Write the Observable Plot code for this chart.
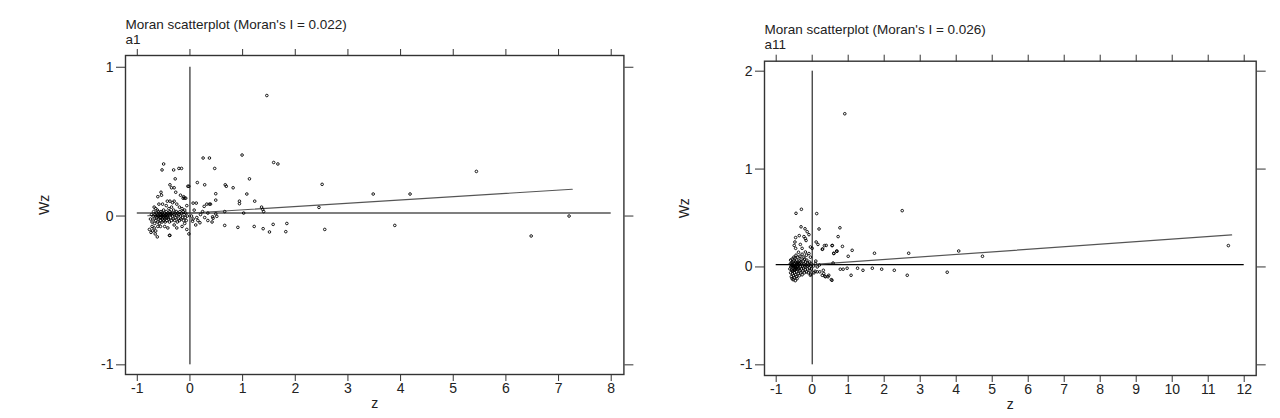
<!DOCTYPE html>
<html>
<head>
<meta charset="utf-8">
<script src="https://cdn.jsdelivr.net/npm/d3@7"></script>
<script src="https://cdn.jsdelivr.net/npm/@observablehq/plot@0.6"></script>
<style>
  html, body { margin: 0; padding: 0; background: #fff; }
  #wrap { display: flex; width: 1280px; height: 418px; }
  #wrap > div { width: 640px; height: 418px; }
</style>
</head>
<body>
<div id="wrap"><div id="p1"></div><div id="p2"></div></div>
<script>
// ---------- Panel a1 ----------
const titleA1 = "Moran scatterplot (Moran's I = 0.022)";
const nameA1 = "a1";
const xTicksA1 = [-1, 0, 1, 2, 3, 4, 5, 6, 7, 8];
const yTicksA1 = [-1, 0, 1];
const meanWzA1 = 0.02;
const regA1 = [[-0.8, 0.002], [7.26, 0.18]];
const pointsA1 = [
  [1.46,0.81],[5.44,0.30],[3.48,0.148],[4.18,0.148],[2.51,0.213],[2.45,0.058],[7.20,0.0],[6.48,-0.134],
  [3.89,-0.063],[2.56,-0.09],[1.82,-0.105],[1.84,-0.05],[1.67,0.35],[1.59,0.36],[0.99,0.41],[1.13,0.25],
  [1.08,0.148],[1.23,0.10],[1.36,0.06],[1.40,0.03],[1.38,0.045],[1.58,-0.056],[1.51,-0.107],[1.39,-0.085],
  [1.22,-0.07],[0.91,-0.076],[0.66,-0.063],[1.02,0.02],[0.94,0.10],[0.94,0.083],[0.82,0.19],[0.67,0.21],
  [0.69,0.20],[0.49,0.15],[0.49,0.107],[0.47,0.32],[0.25,0.39],[0.37,0.39],[0.14,0.225],[0.28,0.21],
  [-0.02,0.20],[0.66,0.03],
  [0.06,0.087],[0.12,0.087],[0.27,0.065],[0.32,0.08],[0.37,0.08],[0.39,0.08],[0.24,0.03],[0.34,-0.03],
  [0.44,-0.015],[0.51,-0.002],[0.15,-0.03],[0.11,-0.06],[0.28,-0.01],[0.20,0.01],[0.13,-0.01],[0.06,-0.02],
  [0.43,-0.005],[0.49,0.015],[0.19,-0.045],[0.42,-0.04],[0.34,0.02],[0.08,0.04],[0.03,0.0],[0.05,-0.035],
  [-0.50,0.35],[-0.53,0.31],[-0.31,0.31],[-0.21,0.32],[-0.16,0.32],[-0.28,0.25],[-0.04,0.20],[-0.38,0.21],
  [-0.35,0.19],[-0.30,0.19],[-0.27,0.16],[-0.55,0.16],[-0.54,0.14],[-0.61,0.13],[-0.18,0.14],[-0.13,0.12],
  [-0.12,0.13],[-0.10,0.12],[-0.43,0.10],[-0.38,0.10],[-0.33,0.09],[-0.30,0.10],[-0.52,0.08],[-0.59,0.08],
  [-0.08,0.12],[-0.06,0.07],[-0.68,0.06],[-0.65,0.05],[-0.45,0.07],[-0.25,0.08],[-0.20,0.06],[-0.40,0.05],
  [-0.35,0.06],[-0.15,0.05],[-0.10,0.04],
  [-0.77,-0.09],[-0.71,-0.10],[-0.68,-0.08],[-0.65,-0.10],[-0.61,-0.07],[-0.56,-0.07],[-0.06,-0.09],[-0.02,-0.12],
  [-0.62,-0.14],[-0.39,-0.13],[-0.38,-0.13],[-0.74,-0.11],[-0.72,-0.07],[-0.66,-0.12],[-0.48,-0.07],[-0.42,-0.08],
  [-0.30,-0.06],[-0.25,-0.08],[-0.15,-0.07],[-0.10,-0.05],
  [-0.75,-0.02],[-0.73,0.01],[-0.72,-0.04],[-0.70,0.0],[-0.69,0.03],[-0.68,-0.02],[-0.67,-0.05],[-0.66,0.01],
  [-0.65,-0.03],[-0.64,0.02],[-0.63,-0.01],[-0.62,0.04],[-0.61,-0.04],[-0.60,0.0],[-0.59,-0.02],[-0.58,0.02],
  [-0.58,-0.05],[-0.57,0.01],[-0.56,-0.03],[-0.55,0.03],[-0.55,-0.01],[-0.54,0.0],[-0.53,-0.04],[-0.53,0.02],
  [-0.52,-0.02],[-0.51,0.01],[-0.50,-0.03],[-0.50,0.04],[-0.49,0.0],[-0.48,-0.02],[-0.48,0.02],[-0.47,-0.04],
  [-0.46,0.01],[-0.45,-0.01],[-0.45,0.03],[-0.44,-0.03],[-0.43,0.0],[-0.42,0.02],[-0.41,-0.02],[-0.40,0.01],
  [-0.39,-0.04],[-0.38,0.03],[-0.37,-0.01],[-0.36,0.01],[-0.35,-0.03],[-0.34,0.02],[-0.33,0.0],[-0.32,-0.02],
  [-0.31,0.04],[-0.30,0.01],[-0.29,-0.03],[-0.28,0.02],[-0.27,-0.01],[-0.26,0.03],[-0.25,0.0],[-0.24,-0.04],
  [-0.23,0.02],[-0.22,-0.02],[-0.21,0.01],[-0.20,-0.03],[-0.19,0.03],[-0.18,0.0],[-0.17,-0.02],[-0.16,0.02],
  [-0.14,-0.01],[-0.13,0.03],[-0.12,-0.03],[-0.11,0.01],[-0.09,-0.01],[-0.08,0.02],[-0.07,-0.03],[-0.05,0.0],
  [-0.62,0.0],[-0.57,-0.01],[-0.52,0.0],[-0.47,0.0],[-0.42,-0.01],[-0.37,0.02],[-0.60,0.03],[-0.65,0.0],
  [-0.55,0.01],[-0.50,-0.01],[-0.44,0.01]
];

// ---------- Panel a11 ----------
const titleA11 = "Moran scatterplot (Moran's I = 0.026)";
const nameA11 = "a11";
const xTicksA11 = [-1, 0, 1, 2, 3, 4, 5, 6, 7, 8, 9, 10, 11, 12];
const yTicksA11 = [-1, 0, 1, 2];
const meanWzA11 = 0.024;
const regA11 = [[-0.62, 0.008], [11.65, 0.327]];
const pointsA11 = [
  [0.905,1.565],[2.50,0.575],[11.56,0.218],[4.73,0.109],[4.07,0.163],[2.68,0.14],[1.73,0.14],[3.75,-0.054],
  [2.64,-0.085],[2.28,-0.034],[1.93,-0.023],[1.67,-0.013],[1.41,-0.034],[1.26,-0.013],[1.08,-0.085],[0.97,-0.013],
  [0.86,-0.023],[0.78,-0.023],[1.0,0.109],[1.11,0.17],[0.84,0.21],[0.72,0.31],[0.77,0.40],[0.55,0.218],
  [0.60,0.14],[0.68,0.163],[0.34,0.218],[0.29,0.184],[0.19,0.388],[0.125,0.545],[0.11,0.255],
  [-0.30,0.589],[-0.45,0.548],[-0.31,0.41],[-0.20,0.39],[-0.14,0.36],[-0.09,0.33],[-0.36,0.32],[-0.46,0.30],
  [-0.48,0.255],[-0.50,0.22],[-0.46,0.19],[-0.51,0.10],[-0.23,0.31],[-0.19,0.29],[-0.17,0.27],[-0.33,0.23],
  [-0.28,0.19],[-0.19,0.153],[-0.16,0.12],[-0.05,0.204],[0.0,0.19],[-0.05,0.10],[-0.09,0.137],[-0.23,0.10],
  [0.16,0.23],[0.28,0.18],[0.39,0.22],[0.56,0.22],[0.60,0.137],[0.69,0.16],[0.58,0.04],[0.09,0.035],
  [0.14,0.0],[0.21,-0.05],[0.28,-0.085],[0.37,-0.10],[0.46,-0.085],[0.53,-0.13],[0.31,-0.034],[0.14,-0.05],
  [0.05,-0.06],[-0.05,-0.085],[0.44,-0.10],[0.35,-0.095],[0.32,-0.068],[0.08,-0.044],[-0.04,-0.074],[0.55,-0.136],
  [0.2,0.02],[0.1,0.06],[0.04,0.01],
  [-0.62,-0.02],[-0.61,0.03],[-0.60,-0.06],[-0.60,0.07],[-0.59,0.0],[-0.58,-0.10],[-0.58,0.04],[-0.57,-0.03],
  [-0.56,0.08],[-0.56,-0.12],[-0.55,0.01],[-0.55,-0.07],[-0.54,0.05],[-0.53,-0.04],[-0.53,-0.13],[-0.52,0.02],
  [-0.52,-0.09],[-0.51,0.06],[-0.50,-0.01],[-0.50,-0.11],[-0.49,0.03],[-0.49,-0.06],[-0.48,0.09],[-0.48,-0.03],
  [-0.47,0.0],[-0.47,-0.14],[-0.46,0.05],[-0.46,-0.08],[-0.45,-0.02],[-0.45,0.12],[-0.44,0.02],[-0.44,-0.10],
  [-0.43,0.07],[-0.43,-0.05],[-0.42,0.0],[-0.42,-0.12],[-0.41,0.04],[-0.40,-0.03],[-0.40,0.10],[-0.39,-0.07],
  [-0.38,0.02],[-0.38,0.15],[-0.37,-0.01],[-0.36,0.06],[-0.36,-0.09],[-0.35,0.03],[-0.34,-0.04],[-0.34,0.11],
  [-0.33,0.0],[-0.32,-0.06],[-0.32,0.05],[-0.31,0.08],[-0.30,-0.02],[-0.29,0.03],[-0.28,-0.08],[-0.28,0.13],
  [-0.27,0.01],[-0.26,-0.04],[-0.25,0.06],[-0.24,-0.01],[-0.23,0.03],[-0.22,-0.06],[-0.21,0.08],[-0.20,0.0],
  [-0.19,-0.03],[-0.18,0.05],[-0.17,0.02],[-0.16,-0.05],[-0.15,0.07],[-0.14,0.01],[-0.13,-0.02],[-0.12,0.04],
  [-0.11,-0.06],[-0.10,0.02],[-0.08,-0.01],[-0.07,0.05],[-0.06,-0.04],[-0.04,0.01],[-0.03,0.03],[-0.02,-0.02],
  [-0.55,-0.04],[-0.51,0.01],[-0.46,-0.01],[-0.41,0.01],[-0.37,0.04],[-0.57,0.02],[-0.49,-0.03],[-0.44,0.04],
  [-0.39,-0.02],[-0.53,0.0]
];

const FONT = "'Liberation Sans', Arial, Helvetica, sans-serif";

function moranPanel(cfg) {
  const pts = cfg.points.map(([z, wz]) => ({z, wz}));
  const reg = cfg.reg.map(([z, wz]) => ({z, wz}));
  const blank = () => "";
  return Plot.plot({
    width: 640,
    height: 418,
    marginLeft: cfg.ml, marginRight: cfg.mr, marginTop: cfg.mt, marginBottom: cfg.mb,
    x: {domain: cfg.xDomain},
    y: {domain: cfg.yDomain},
    style: {fontFamily: FONT, fontSize: "14px", color: "#222", background: "#fff", overflow: "visible"},
    marks: [
      Plot.axisX({anchor: "bottom", ticks: cfg.xTicks, tickSize: 7, tickPadding: 2, label: null, tickFormat: d => String(d), fontSize: 14, stroke: "#333"}),
      Plot.axisX({anchor: "top", ticks: cfg.xTicks, tickSize: 7, label: null, tickFormat: blank, stroke: "#333"}),
      Plot.axisY({anchor: "left", ticks: cfg.yTicks, tickSize: 9, tickPadding: 3, label: null, tickFormat: d => String(d), fontSize: 14, stroke: "#333"}),
      Plot.axisY({anchor: "right", ticks: cfg.yTicks, tickSize: 9, label: null, tickFormat: blank, stroke: "#333"}),
      Plot.frame({stroke: "#333", strokeWidth: 1.4}),
      Plot.ruleX([0], {y1: cfg.yTicks[0], y2: cfg.yTicks[cfg.yTicks.length - 1], stroke: "#000", strokeWidth: 1}),
      Plot.ruleY([cfg.meanWz], {x1: cfg.xTicks[0], x2: cfg.xTicks[cfg.xTicks.length - 1], stroke: "#000", strokeWidth: 1.1}),
      Plot.line(reg, {x: "z", y: "wz", stroke: "#555", strokeWidth: 1.2}),
      Plot.dot(pts, {x: "z", y: "wz", r: 1.3, stroke: "#000", strokeWidth: 0.9, fill: "none"}),
      Plot.text([cfg.title], {frameAnchor: "top-left", textAnchor: "start", lineAnchor: "middle", dy: cfg.titleDy, fontSize: 13.5, fill: "#222"}),
      Plot.text([cfg.name], {frameAnchor: "top-left", textAnchor: "start", lineAnchor: "middle", dy: cfg.nameDy, fontSize: 13.5, fill: "#222"}),
      Plot.text(["z"], {frameAnchor: "bottom", lineAnchor: "middle", dy: 29, fontSize: 14, fill: "#222"}),
      Plot.text(["Wz"], {frameAnchor: "left", rotate: -90, lineAnchor: "middle", dx: cfg.wzDx, fontSize: 14, fill: "#222"})
    ]
  });
}

document.getElementById("p1").append(moranPanel({
  title: titleA1, name: nameA1, points: pointsA1, reg: regA1, meanWz: meanWzA1,
  xTicks: xTicksA1, yTicks: yTicksA1,
  xDomain: [-1.224, 8.241], yDomain: [-1.065, 1.079],
  ml: 125, mr: 16.6, mt: 55, mb: 44,
  titleDy: -31, nameDy: -16, wzDx: -81
}));

document.getElementById("p2").append(moranPanel({
  title: titleA11, name: nameA11, points: pointsA11, reg: regA11, meanWz: meanWzA11,
  xTicks: xTicksA11, yTicks: yTicksA11,
  xDomain: [-1.325, 12.333], yDomain: [-1.109, 2.102],
  ml: 124, mr: 24.3, mt: 60.7, mb: 43,
  titleDy: -31.7, nameDy: -16.7, wzDx: -80
}));
</script>
</body>
</html>
